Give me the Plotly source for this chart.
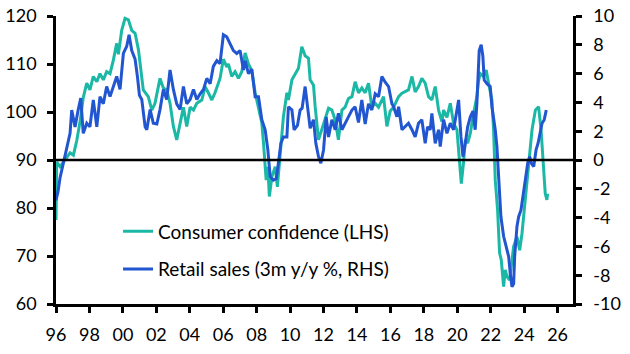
import plotly.graph_objects as go

# Consumer confidence (LHS) - decimal year, index
cc_x = [1996.00, 1996.04, 1996.24, 1996.54, 1996.84, 1997.04, 1997.24, 1997.44, 1997.63, 1997.84,
        1998.03, 1998.23, 1998.44, 1998.63, 1998.83, 1999.03, 1999.23, 1999.43, 1999.63, 1999.73,
        1999.93, 2000.13, 2000.33, 2000.53, 2000.73, 2000.93, 2001.22, 2001.52, 2001.73, 2001.92,
        2002.22, 2002.42, 2002.62, 2002.82, 2003.02, 2003.22, 2003.42, 2003.62, 2003.82, 2004.02,
        2004.22, 2004.42, 2004.72, 2004.92, 2005.11, 2005.32, 2005.51, 2005.81, 2006.01, 2006.21,
        2006.31, 2006.51, 2006.71, 2006.91, 2007.11, 2007.31, 2007.51, 2007.71, 2007.91, 2008.11,
        2008.31, 2008.41, 2008.57, 2008.67, 2008.76, 2008.91, 2009.11, 2009.24, 2009.41, 2009.60,
        2009.81, 2009.90, 2010.11, 2010.30, 2010.50, 2010.70, 2010.90, 2011.10, 2011.20, 2011.40,
        2011.50, 2011.70, 2011.90, 2012.10, 2012.30, 2012.50, 2012.70, 2012.89, 2013.10, 2013.29,
        2013.49, 2013.70, 2013.89, 2014.09, 2014.29, 2014.49, 2014.69, 2014.89, 2015.09, 2015.29,
        2015.59, 2015.79, 2015.99, 2016.19, 2016.49, 2016.69, 2016.89, 2017.08, 2017.29, 2017.48,
        2017.68, 2017.88, 2018.08, 2018.28, 2018.48, 2018.68, 2018.88, 2019.08, 2019.18, 2019.38,
        2019.58, 2019.78, 2019.98, 2020.12, 2020.24, 2020.37, 2020.48, 2020.62, 2020.78, 2020.94,
        2021.07, 2021.17, 2021.27, 2021.37, 2021.57, 2021.73, 2021.87, 2022.07, 2022.17, 2022.27,
        2022.41, 2022.53, 2022.63, 2022.77, 2022.87, 2022.97, 2023.13, 2023.27, 2023.37, 2023.57,
        2023.73, 2023.87, 2024.07, 2024.27, 2024.47, 2024.67, 2024.86, 2025.01, 2025.13, 2025.26,
        2025.36, 2025.40]
cc_y = [77.5, 89.6, 88.6, 90.0, 91.5, 91.0, 94.0, 98.0, 103.0, 106.0,
        104.6, 107.4, 106.3, 108.0, 106.7, 108.4, 108.0, 110.8, 114.3, 112.0,
        117.0, 119.5, 119.2, 117.0, 116.4, 113.0, 104.6, 103.2, 100.4, 101.8,
        107.0, 105.0, 104.6, 101.8, 97.0, 94.2, 97.7, 101.0, 97.0, 101.0,
        100.4, 101.8, 102.5, 105.3, 104.0, 102.5, 104.0, 107.0, 111.0, 109.4,
        110.0, 107.4, 108.4, 107.0, 108.4, 112.3, 110.0, 108.6, 104.0, 101.0,
        97.7, 93.5, 85.8, 88.6, 82.4, 86.5, 88.6, 84.4, 92.0, 99.0,
        104.0, 102.5, 106.7, 108.0, 109.1, 113.6, 111.7, 111.2, 106.7, 105.6,
        101.1, 94.2, 96.3, 98.3, 100.8, 100.4, 98.3, 94.2, 100.4, 101.0,
        102.8, 103.2, 106.3, 104.0, 105.0, 104.0, 106.0, 101.0, 101.8, 101.0,
        103.2, 97.0, 100.2, 101.0, 103.2, 103.9, 104.2, 104.6, 107.4, 104.2,
        105.3, 107.0, 106.0, 103.2, 102.5, 105.3, 100.4, 98.0, 100.4, 98.9,
        101.8, 97.6, 96.3, 90.7, 85.1, 89.4, 94.2, 93.5, 95.6, 99.0,
        101.5, 103.2, 106.5, 108.0, 107.4, 108.75, 106.0, 102.5, 96.3, 85.8,
        79.6, 70.6, 69.2, 63.6, 67.1, 65.7, 65.0, 69.2, 72.0, 74.0,
        71.2, 74.7, 82.4, 89.3, 96.3, 100.4, 101.1, 96.3, 90.7, 83.0,
        81.7, 83.0]

# Retail sales (3m y/y %, RHS)
rs_x = [1996.00, 1996.12, 1996.24, 1996.44, 1996.64, 1996.84, 1996.94, 1997.14, 1997.33, 1997.48,
        1997.63, 1997.84, 1998.03, 1998.23, 1998.44, 1998.63, 1998.83, 1999.03, 1999.23, 1999.43,
        1999.63, 1999.83, 2000.03, 2000.23, 2000.37, 2000.53, 2000.73, 2000.87, 2000.99, 2001.13,
        2001.33, 2001.43, 2001.63, 2001.82, 2002.03, 2002.22, 2002.42, 2002.62, 2002.82, 2003.02,
        2003.22, 2003.42, 2003.62, 2003.82, 2004.02, 2004.22, 2004.42, 2004.62, 2004.82, 2005.02,
        2005.22, 2005.41, 2005.62, 2005.81, 2006.01, 2006.21, 2006.41, 2006.61, 2006.81, 2007.01,
        2007.21, 2007.31, 2007.51, 2007.71, 2007.91, 2008.11, 2008.31, 2008.51, 2008.67, 2008.81,
        2009.00, 2009.17, 2009.30, 2009.45, 2009.60, 2009.81, 2009.90, 2010.11, 2010.24, 2010.44,
        2010.60, 2010.72, 2010.90, 2011.06, 2011.20, 2011.40, 2011.54, 2011.70, 2011.84, 2012.00,
        2012.16, 2012.30, 2012.50, 2012.70, 2012.89, 2013.10, 2013.29, 2013.49, 2013.70, 2013.89,
        2014.09, 2014.29, 2014.49, 2014.69, 2014.89, 2015.09, 2015.29, 2015.49, 2015.69, 2015.89,
        2016.09, 2016.19, 2016.39, 2016.49, 2016.69, 2016.89, 2017.08, 2017.29, 2017.48, 2017.68,
        2017.88, 2018.08, 2018.22, 2018.38, 2018.48, 2018.68, 2018.88, 2018.98, 2019.18, 2019.38,
        2019.58, 2019.78, 2019.98, 2020.08, 2020.22, 2020.34, 2020.48, 2020.62, 2020.78, 2020.94,
        2021.07, 2021.17, 2021.31, 2021.43, 2021.53, 2021.61, 2021.77, 2021.97, 2022.07, 2022.27,
        2022.37, 2022.47, 2022.61, 2022.77, 2022.93, 2023.07, 2023.17, 2023.27, 2023.37, 2023.43,
        2023.57, 2023.67, 2023.81, 2023.93, 2024.07, 2024.21, 2024.33, 2024.43, 2024.57, 2024.71,
        2024.83, 2024.97, 2025.07, 2025.20, 2025.32]
rs_y = [-2.8, -2.2, -1.25, -0.23, 0.7, 1.85, 3.47, 2.3, 3.5, 4.3,
        1.85, 2.55, 2.3, 4.17, 2.3, 4.4, 3.9, 5.1, 4.4, 5.1,
        5.8, 4.9, 7.4, 7.9, 8.7, 7.6, 7.0, 5.8, 4.5, 4.2,
        2.3, 2.1, 3.5, 2.55, 2.5, 3.5, 4.9, 4.2, 6.25, 4.9,
        3.9, 3.5, 5.1, 3.9, 4.2, 4.9, 4.2, 4.6, 4.9, 5.67,
        5.3, 6.5, 6.9, 6.7, 8.7, 8.56, 8.1, 7.6, 7.4, 7.6,
        6.25, 6.9, 6.0, 6.3, 4.4, 4.4, 2.8, 2.1, 0.7, -1.16,
        -1.4, -1.3, -0.23, 1.16, 1.6, 1.6, 3.7, 3.47, 2.1, 2.4,
        3.47, 3.6, 5.1, 3.7, 2.2, 2.8, 1.16, 0.23, -0.23, 0.7,
        3.0, 1.6, 2.8, 2.1, 3.24, 2.1, 2.6, 3.0, 3.47, 3.7,
        2.6, 4.17, 2.5, 3.9, 3.47, 4.6, 4.4, 5.8, 5.4, 5.1,
        3.9, 3.7, 3.0, 3.7, 2.1, 2.3, 2.55, 2.1, 1.6, 2.55,
        2.8, 1.16, 2.3, 2.1, 3.24, 1.16, 2.1, 0.93, 2.8, 1.85,
        2.55, 2.1, 3.36, 4.17, 1.6, 0.23, 1.16, 2.3, 3.0, 3.4,
        2.1, 3.9, 7.6, 8.0, 7.2, 5.55, 5.3, 5.1, 3.7, 2.1,
        0.93, -0.93, -3.94, -5.3, -6.0, -6.7, -7.9, -8.8, -8.6, -6.7,
        -4.6, -3.94, -3.47, -2.55, -1.4, -0.23, 0.23, -0.23, -0.46, 0.7,
        1.16, 2.1, 2.55, 2.8, 3.47]

x_ticks = list(range(1996, 2027, 2))
x_labels = [str(y)[2:] for y in x_ticks]
left_ticks = [60, 70, 80, 90, 100, 110, 120]
right_ticks = [-10, -8, -6, -4, -2, 0, 2, 4, 6, 8, 10]
right_labels = [str(v) for v in right_ticks]

TEAL = "#1BB8A6"
BLUE = "#2256D0"
FONT = "Lato"
X_END = 2026.92

fig = go.Figure()
fig.add_trace(go.Scatter(x=cc_x, y=cc_y, mode="lines", name="Consumer confidence (LHS)",
                         line=dict(color=TEAL, width=3), legendgroup="a", yaxis="y"))
fig.add_trace(go.Scatter(x=rs_x, y=rs_y, mode="lines", name="Retail sales (3m y/y %, RHS)",
                         line=dict(color=BLUE, width=3), legendgroup="b", yaxis="y2"))

fig.add_shape(type="line", xref="x", yref="y", x0=1996, x1=X_END, y0=90, y1=90,
              line=dict(color="black", width=2.5), layer="above")

axis_common = dict(showline=True, linecolor="black", linewidth=2.5, ticks="outside",
                   ticklen=6, tickwidth=2.5, tickcolor="black", showgrid=False,
                   zeroline=False, automargin=False,
                   tickfont=dict(family=FONT, size=18, color="black"))

fig.update_layout(
    width=630, height=354,
    margin=dict(l=56, r=57, t=16, b=50, autoexpand=False),
    paper_bgcolor="white", plot_bgcolor="white",
    font=dict(family=FONT, size=18, color="black"),
    showlegend=True,
    legend=dict(x=0.12, y=0.318, xanchor="left", yanchor="top", bgcolor="rgba(0,0,0,0)",
                font=dict(family=FONT, size=19, color="black"), tracegroupgap=10,
                traceorder="grouped"),
    xaxis=dict(range=[1996, X_END], tickmode="array", tickvals=x_ticks, ticktext=x_labels,
               ticklabelstandoff=7, **axis_common),
    yaxis=dict(range=[60, 120], tickmode="array", tickvals=left_ticks,
               ticklabelstandoff=7, **axis_common),
    yaxis2=dict(range=[-10, 10], tickmode="array", tickvals=right_ticks, ticktext=right_labels,
                overlaying="y", side="right", ticklabelstandoff=8, **axis_common),
)

fig.write_html("out.html")
